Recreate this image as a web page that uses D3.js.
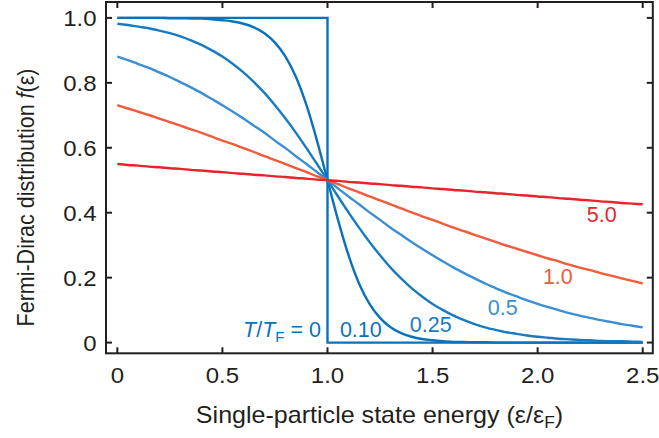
<!DOCTYPE html>
<html>
<head>
<meta charset="utf-8">
<script src="https://cdn.jsdelivr.net/npm/d3@7"></script>
<style>
  html, body { margin: 0; padding: 0; background: #fff; }
  svg { display: block; font-family: "Liberation Sans", Arial, Helvetica, sans-serif; }
</style>
</head>
<body>
<svg id="chart" width="659" height="438"></svg>
<script>
// Reduced energy ε/ε_F sampled every 0.05 from 0 to 2.5
const energy = d3.range(51).map(i => +(i * 0.05).toFixed(2));

// Occupation f(ε) for each reduced temperature T/T_F
const occT010 = [1.000, 1.000, 1.000, 1.000, 1.000, 0.999, 0.999, 0.998, 0.998, 0.996,
  0.993, 0.989, 0.982, 0.971, 0.953, 0.924, 0.881, 0.818, 0.731, 0.622,
  0.500, 0.378, 0.269, 0.182, 0.119, 0.076, 0.047, 0.029, 0.018, 0.011,
  0.007, 0.004, 0.002, 0.002, 0.001, 0.001, 0.000, 0.000, 0.000, 0.000,
  0.000, 0.000, 0.000, 0.000, 0.000, 0.000, 0.000, 0.000, 0.000, 0.000, 0.000];
const occT025 = [0.982, 0.978, 0.973, 0.968, 0.961, 0.953, 0.943, 0.931, 0.917, 0.900,
  0.881, 0.858, 0.832, 0.802, 0.769, 0.731, 0.690, 0.646, 0.599, 0.550,
  0.500, 0.450, 0.401, 0.354, 0.310, 0.269, 0.231, 0.198, 0.168, 0.142,
  0.119, 0.100, 0.083, 0.069, 0.057, 0.047, 0.039, 0.032, 0.027, 0.022,
  0.018, 0.015, 0.012, 0.010, 0.008, 0.007, 0.005, 0.004, 0.004, 0.003, 0.002];
const occT05 = [0.881, 0.870, 0.858, 0.846, 0.832, 0.818, 0.802, 0.786, 0.769, 0.750,
  0.731, 0.711, 0.690, 0.668, 0.646, 0.622, 0.599, 0.574, 0.550, 0.525,
  0.500, 0.475, 0.450, 0.426, 0.401, 0.378, 0.354, 0.332, 0.310, 0.289,
  0.269, 0.250, 0.231, 0.214, 0.198, 0.182, 0.168, 0.154, 0.142, 0.130,
  0.119, 0.109, 0.100, 0.091, 0.083, 0.076, 0.069, 0.063, 0.057, 0.052, 0.047];
const occT10 = [0.731, 0.721, 0.711, 0.701, 0.690, 0.679, 0.668, 0.657, 0.646, 0.634,
  0.622, 0.611, 0.599, 0.587, 0.574, 0.562, 0.550, 0.537, 0.525, 0.512,
  0.500, 0.488, 0.475, 0.463, 0.450, 0.438, 0.426, 0.413, 0.401, 0.389,
  0.378, 0.366, 0.354, 0.343, 0.332, 0.321, 0.310, 0.299, 0.289, 0.279,
  0.269, 0.259, 0.250, 0.240, 0.231, 0.223, 0.214, 0.206, 0.198, 0.190, 0.182];
const occT50 = [0.550, 0.547, 0.545, 0.542, 0.540, 0.537, 0.535, 0.532, 0.530, 0.527,
  0.525, 0.522, 0.520, 0.517, 0.515, 0.512, 0.510, 0.507, 0.505, 0.502,
  0.500, 0.498, 0.495, 0.493, 0.490, 0.488, 0.485, 0.483, 0.480, 0.478,
  0.475, 0.473, 0.470, 0.468, 0.465, 0.463, 0.460, 0.458, 0.455, 0.453,
  0.450, 0.448, 0.445, 0.443, 0.440, 0.438, 0.435, 0.433, 0.430, 0.428, 0.426];

// Zero-temperature step function
const stepEnergy = [0, 1, 1, 2.5];
const stepOcc = [1, 1, 0, 0];

// Axis ticks
const xTicks = [0, 0.5, 1.0, 1.5, 2.0, 2.5];
const xTickLabels = ["0", "0.5", "1.0", "1.5", "2.0", "2.5"];
const yTicks = [0, 0.2, 0.4, 0.6, 0.8, 1.0];
const yTickLabels = ["0", "0.2", "0.4", "0.6", "0.8", "1.0"];

const curveLabels = ["0.10", "0.25", "0.5", "1.0", "5.0"];

const svg = d3.select("#chart");
const ink = "#231f20";
const widen = 1.09; // slightly wide lettering

const x = d3.scaleLinear().domain([-0.054, 2.548]).range([106, 652.8]);
const y = d3.scaleLinear().domain([-0.033, 1.049]).range([353.3, 2]);

const blueDark = "#0a72ba";
const blueMid = "#167bc2";
const blueLight = "#3b8ed3";
const orange = "#f15a3a";
const red = "#e8232d";

const series = [
  { vals: occT50, color: red },
  { vals: occT10, color: orange },
  { vals: occT05, color: blueLight },
  { vals: occT025, color: blueMid },
  { vals: occT010, color: blueDark }
];

const line = d3.line()
  .x(d => x(d[0]))
  .y(d => y(d[1]))
  .curve(d3.curveMonotoneX);

const plot = svg.append("g");

// Step at T = 0
plot.append("path")
  .datum(stepEnergy.map((e, i) => [e, stepOcc[i]]))
  .attr("fill", "none")
  .attr("stroke", blueDark)
  .attr("stroke-width", 2.4)
  .attr("stroke-linejoin", "miter")
  .attr("d", d3.line().x(d => x(d[0])).y(d => y(d[1])));

series.slice().reverse().forEach(s => {
  plot.append("path")
    .datum(energy.map((e, i) => [e, s.vals[i]]))
    .attr("fill", "none")
    .attr("stroke", s.color)
    .attr("stroke-width", 2.4)
    .attr("d", line);
});

// Frame and inward ticks on all four sides
const frame = svg.append("g");
frame.append("rect")
  .attr("x", x.range()[0]).attr("y", y.range()[1])
  .attr("width", x.range()[1] - x.range()[0])
  .attr("height", y.range()[0] - y.range()[1])
  .attr("fill", "none").attr("stroke", ink).attr("stroke-width", 2);

const tickLen = 6;
xTicks.forEach(t => {
  frame.append("line").attr("x1", x(t)).attr("x2", x(t))
    .attr("y1", y.range()[0]).attr("y2", y.range()[0] - tickLen)
    .attr("stroke", ink).attr("stroke-width", 2);
  frame.append("line").attr("x1", x(t)).attr("x2", x(t))
    .attr("y1", y.range()[1]).attr("y2", y.range()[1] + tickLen)
    .attr("stroke", ink).attr("stroke-width", 2);
});
yTicks.forEach(t => {
  frame.append("line").attr("y1", y(t)).attr("y2", y(t))
    .attr("x1", x.range()[0]).attr("x2", x.range()[0] + tickLen)
    .attr("stroke", ink).attr("stroke-width", 2);
  frame.append("line").attr("y1", y(t)).attr("y2", y(t))
    .attr("x1", x.range()[1]).attr("x2", x.range()[1] - tickLen)
    .attr("stroke", ink).attr("stroke-width", 2);
});

// Tick labels
const tickFont = 22;
xTicks.forEach((t, i) => {
  svg.append("text")
    .attr("transform", `translate(${x(t)},382.5) scale(${widen},1)`)
    .attr("text-anchor", "middle").attr("font-size", tickFont).attr("fill", ink)
    .text(xTickLabels[i]);
});
yTicks.forEach((t, i) => {
  svg.append("text")
    .attr("transform", `translate(96.5,${y(t) + 8.5}) scale(${widen},1)`)
    .attr("text-anchor", "end").attr("font-size", tickFont).attr("fill", ink)
    .text(yTickLabels[i]);
});

// Axis titles
const xt = svg.append("text")
  .attr("transform", `translate(379.5,423) scale(${widen},1)`)
  .attr("text-anchor", "middle").attr("font-size", 23).attr("fill", ink);
xt.append("tspan").text("Single-particle state energy (ε/ε");
xt.append("tspan").attr("font-size", 16).attr("dy", 5).text("F");
xt.append("tspan").attr("dy", -5).text(")");

const yt = svg.append("text")
  .attr("transform", `translate(34,197.5) scale(${widen},1) rotate(-90)`)
  .attr("text-anchor", "middle").attr("font-size", 21.5).attr("fill", ink);
yt.append("tspan").text("Fermi-Dirac distribution ");
yt.append("tspan").attr("font-style", "italic").text("f");
yt.append("tspan").text("(ε)");

// Curve labels
const labelFont = 21.5;
const t0 = svg.append("text").attr("x", 321).attr("y", 337)
  .attr("text-anchor", "end").attr("font-size", labelFont).attr("fill", blueDark);
t0.append("tspan").attr("font-style", "italic").text("T");
t0.append("tspan").text("/");
t0.append("tspan").attr("font-style", "italic").text("T");
t0.append("tspan").attr("font-size", 15).attr("dy", 5).text("F");
t0.append("tspan").attr("dy", -5).text(" = 0");

const labelPos = [
  { e: 1.059, v: 0.017, color: blueDark },
  { e: 1.392, v: 0.033, color: blueMid },
  { e: 1.763, v: 0.085, color: blueLight },
  { e: 2.025, v: 0.180, color: orange },
  { e: 2.234, v: 0.371, color: red }
];
curveLabels.forEach((txt, i) => {
  svg.append("text")
    .attr("x", x(labelPos[i].e)).attr("y", y(labelPos[i].v))
    .attr("text-anchor", "start").attr("font-size", labelFont)
    .attr("fill", labelPos[i].color).text(txt);
});
</script>
</body>
</html>
